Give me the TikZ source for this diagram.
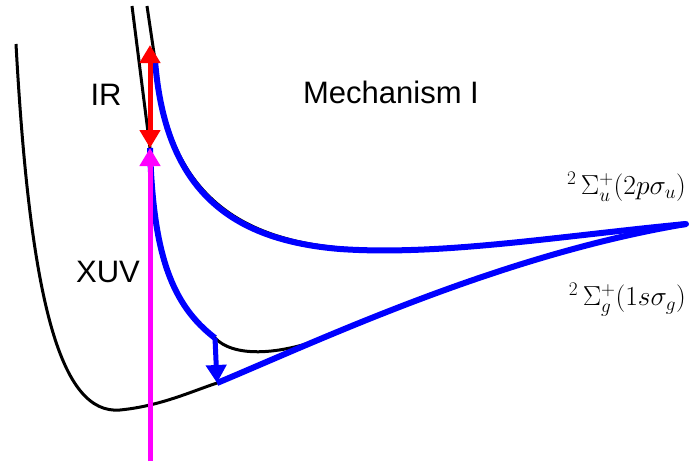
\RequirePackage{fix-cm}
\documentclass[tikz,border=0pt]{standalone}
\usepackage{fontspec}
\setmainfont{Liberation Sans}
\usetikzlibrary{arrows.meta}
\definecolor{xuvmag}{RGB}{255,0,255}
\definecolor{irred}{RGB}{255,0,0}
\definecolor{dblue}{RGB}{0,0,255}
\tikzset{bigtri/.tip={Triangle[width=20pt,length=18pt]}}
\begin{document}
\begin{tikzpicture}[x=1pt,y=-1pt,
  pes/.style={line width=3pt,black},
  dressed/.style={line width=6pt,dblue,line cap=round},
  lbl/.style={font=\fontsize{31}{36}\selectfont},
  mlbl/.style={font=\fontsize{27.5}{32}\selectfont,anchor=east,inner sep=0pt}]
\useasboundingbox (0,0) rectangle (690,461);
% named points
\coordinate (gtop) at (16,44);
\coordinate (gmin) at (120,410);
\coordinate (jump) at (217,383);
\coordinate (asym) at (686,224);
\coordinate (utop) at (147,6);
\coordinate (ustart) at (155,60);
\coordinate (ltop) at (132,6);
\coordinate (cross) at (150,148);
\coordinate (lend) at (215,338);
\coordinate (irtop) at (150,45);
\coordinate (xuvbot) at (150,461);
% ground state black curve
\draw[pes] (gtop) .. controls (30,300) and (60,415) .. (gmin)
  .. controls (160,406) and (190,392) .. (jump)
  .. controls (320,340) and (500,255) .. (asym);
% upper state black curve
\draw[pes] (utop) -- (ustart) .. controls (166,188) and (232,238) .. (340,248)
  .. controls (440,256) and (560,236) .. (asym);
% dressed lower state black curve
\draw[pes] (ltop) -- (cross) .. controls (152,260) and (172,305) .. (lend)
  .. controls (232,356) and (275,358) .. (335,334);
% blue dressed paths
\draw[dressed] (ustart) .. controls (165,190) and (230,240) .. (340,249)
  .. controls (440,256) and (560,236) .. (asym);
\draw[dressed,line cap=butt] (cross) .. controls (153,255) and (172,305) .. (lend);
\draw[dressed,line cap=butt] (jump) .. controls (320,340) and (500,255) .. (asym);
\draw[dblue,line width=5pt,-{bigtri}] (lend) -- (jump);
% XUV and IR arrows
\draw[xuvmag,line width=5pt,-{bigtri}] (xuvbot) -- (cross);
\draw[irred,line width=5pt,{bigtri}-{bigtri}] (cross) -- (irtop);
% labels
\node[lbl] (ir) at (106,95) {IR};
\node[lbl] (mech) at (391,92) {Mechanism I};
\node[lbl] (xuv) at (108,272) {XUV};
\node[mlbl] (su) at (686,187) {$^{2}\,\Sigma_u^{+}(2p\sigma_u)$};
\node[mlbl] (sg) at (686,300) {$^{2}\,\Sigma_g^{+}(1s\sigma_g)$};
\end{tikzpicture}
\end{document}
